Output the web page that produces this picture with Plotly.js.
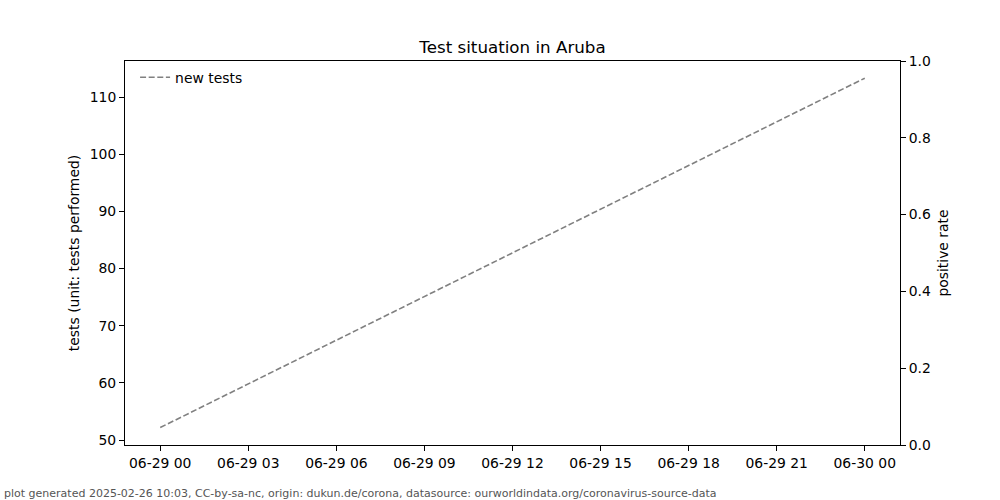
<!DOCTYPE html>
<html>
<head>
<meta charset="utf-8">
<script src="https://cdn.plot.ly/plotly-3.0.1.min.js"></script>
<style>html,body{margin:0;padding:0;background:#fff}#chart{width:1000px;height:500px}</style>
</head>
<body>
<div id="chart"></div>
<script>
const dates = ["2020-06-29 00:00", "2020-06-30 00:00"];
const newTests = [52.2, 113.3];
const positiveRate = [];
const tickVals = ["2020-06-29 00:00","2020-06-29 03:00","2020-06-29 06:00","2020-06-29 09:00","2020-06-29 12:00","2020-06-29 15:00","2020-06-29 18:00","2020-06-29 21:00","2020-06-30 00:00"];
const tickText = ["06-29 00","06-29 03","06-29 06","06-29 09","06-29 12","06-29 15","06-29 18","06-29 21","06-30 00"];

const font = {family: "DejaVu Sans, sans-serif", size: 13.9, color: "#000"};
const traces = [
  {x: dates, y: newTests, type: "scatter", mode: "lines", name: "new tests",
   line: {color: "#808080", width: 1.6, dash: "6px,2.6px"}},
  {x: [], y: positiveRate, type: "scatter", mode: "lines", yaxis: "y2", showlegend: false, hoverinfo: "skip"}
];
const layout = {
  width: 1000, height: 500,
  margin: {l: 125, r: 100, t: 61, b: 55},
  paper_bgcolor: "#fff", plot_bgcolor: "#fff",
  font: font,
  title: {text: "Test situation in Aruba", font: {family: font.family, size: 16.7, color: "#000"}, x: 0.5125, xanchor: "center", y: 0.906, yanchor: "middle"},
  showlegend: true,
  legend: {x: 0.013, y: 0.998, xanchor: "left", yanchor: "top", bgcolor: "rgba(0,0,0,0)", borderwidth: 0, font: {family: font.family, size: 13.9}},
  xaxis: {type: "date", range: ["2020-06-28 22:48", "2020-06-30 01:12"], tickvals: tickVals, ticktext: tickText,
          showgrid: false, zeroline: false, showline: true, linecolor: "#000", linewidth: 1, mirror: true,
          ticks: "outside", ticklen: 5, tickwidth: 1, tickcolor: "#000", tickfont: {family: font.family, size: 13.9}},
  yaxis: {range: [49.15, 116.3], tickvals: [50,60,70,80,90,100,110], showgrid: false, zeroline: false,
          showline: true, linecolor: "#000", linewidth: 1, ticks: "outside", ticklen: 5, tickcolor: "#000",
          title: {text: "tests (unit: tests performed)", font: {family: font.family, size: 13.9}, standoff: 6},
          tickfont: {family: font.family, size: 13.9}},
  yaxis2: {overlaying: "y", side: "right", range: [0, 1], tickvals: [0,0.2,0.4,0.6,0.8,1.0], tickformat: ".1f",
           showgrid: false, zeroline: false, showline: true, linecolor: "#000", linewidth: 1,
           ticks: "outside", ticklen: 5, tickcolor: "#000",
           title: {text: "positive rate", font: {family: font.family, size: 13.9}, standoff: 8},
           tickfont: {family: font.family, size: 13.9}},
  annotations: [{text: "plot generated 2025-02-26 10:03, CC-by-sa-nc, origin: dukun.de/corona, datasource: ourworldindata.org/coronavirus-source-data",
                 xref: "paper", yref: "paper", x: -0.1587, y: -0.1276, xanchor: "left", yanchor: "middle", showarrow: false,
                 font: {family: font.family, size: 11, color: "#555"}}]
};
Plotly.newPlot("chart", traces, layout, {displayModeBar: false, staticPlot: true});
</script>
</body>
</html>
